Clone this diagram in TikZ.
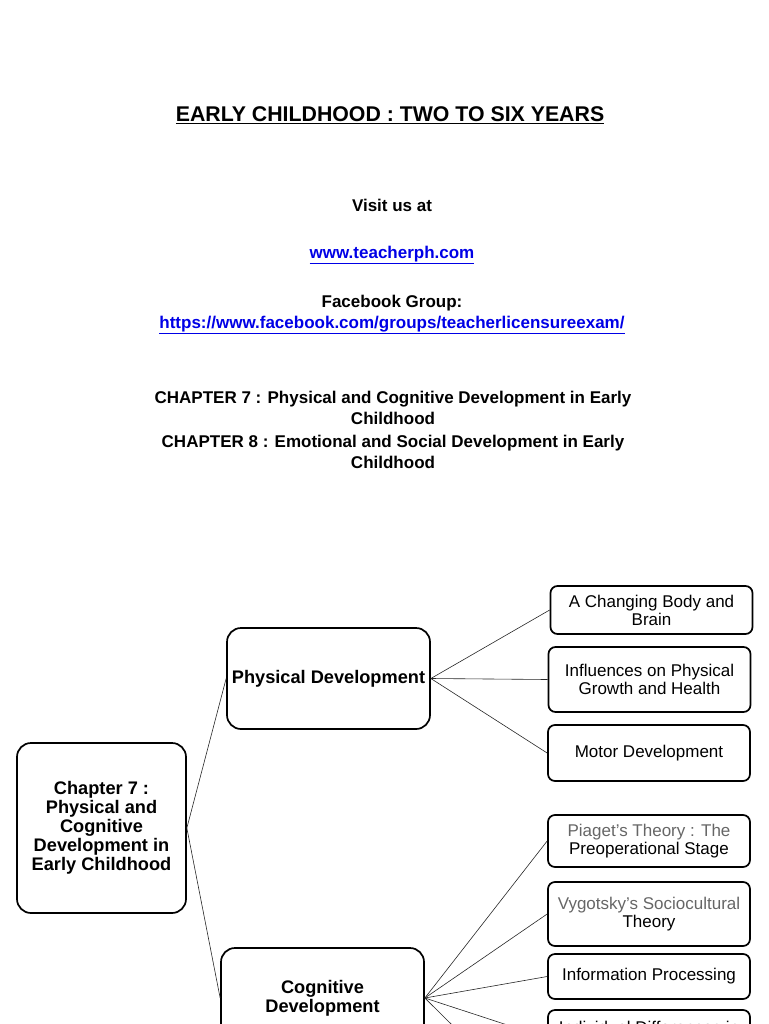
\documentclass[tikz,border=0pt]{standalone}
\usepackage{fontspec}
\setmainfont{Liberation Sans}
\definecolor{linkblue}{RGB}{0,0,230}

\begin{document}
\begin{tikzpicture}[x=1pt,y=-1pt,
  box/.style={draw, line width=1.7pt, rounded corners=7pt, align=center, inner sep=0pt},
  bigbox/.style={box, rounded corners=14pt, font=\fontsize{18.2}{19}\selectfont\bfseries},
  leaf/.style={box, minimum width=202pt, font=\fontsize{17}{18}\selectfont},
  link/.style={line width=0.6pt, black!85},
  heading/.style={font=\fontsize{17}{20.5}\selectfont\bfseries, align=center},
  url/.style={heading, text=linkblue}]
% Page frame
\useasboundingbox (0,0) rectangle (768,1024);
\clip (0,0) rectangle (768,1024);

% Title and links
\node[font=\fontsize{21.3}{24}\selectfont\bfseries] (title) at (390,115) {\underline{EARLY CHILDHOOD : TWO TO SIX YEARS}};
\node[heading] (visit) at (392,205) {Visit us at};
\node[url] (site) at (392,255) {\underline{www.teacherph.com}};
\node[heading] (fbgroup) at (392,303) {Facebook Group:};
\node[url] (fblink) at (392,325) {\underline{https://www.facebook.com/groups/teacherlicensureexam/}};

% Chapter lines
\node[heading] (ch7) at (393,408) {CHAPTER 7 : Physical and Cognitive Development in Early\\Childhood};
\node[heading] (ch8) at (393,452) {CHAPTER 8 : Emotional and Social Development in Early\\Childhood};

% Main boxes
\node[bigbox, minimum width=169pt, minimum height=170pt] (chap) at (101.5,828)
  {Chapter 7 :\\Physical and\\Cognitive\\Development in\\Early Childhood};
\node[bigbox, minimum width=203pt, minimum height=101pt] (phys) at (328.5,678.5) {Physical Development};
\node[bigbox, minimum width=203pt, minimum height=100pt] (cog) at (322.5,998) {Cognitive\\Development};

% Physical topics
\node[leaf, minimum height=48pt] (body) at (651.5,610) {A Changing Body and\\Brain};
\node[leaf, minimum height=65pt] (growth) at (649.5,679.5) {Influences on Physical\\Growth and Health};
\node[leaf, minimum height=56pt] (motor) at (649,753) {Motor Development};

% Cognitive topics
\node[leaf, minimum height=52pt] (piaget) at (649,841) {{\color{black!60}Piaget's Theory : The}\\Preoperational Stage};
\node[leaf, minimum height=64pt] (vygotsky) at (649,914) {{\color{black!60}Vygotsky's Sociocultural}\\Theory};
\node[leaf, minimum height=45pt] (info) at (649,976.5) {Information Processing};
\node[leaf, minimum height=56pt] (indiv) at (649,1038) {Individual Differences in\\Mental Development};
\coordinate (lang) at (548,1120);

% Connectors
\draw[link] (chap.east) -- (phys.west);
\draw[link] (chap.east) -- (cog.west);
\foreach \t in {body,growth,motor}
  \draw[link] (phys.east) -- (\t.west);
\foreach \t in {piaget,vygotsky,info,indiv}
  \draw[link] (cog.east) -- (\t.west);
\draw[link] (cog.east) -- (lang);
\end{tikzpicture}
\end{document}
